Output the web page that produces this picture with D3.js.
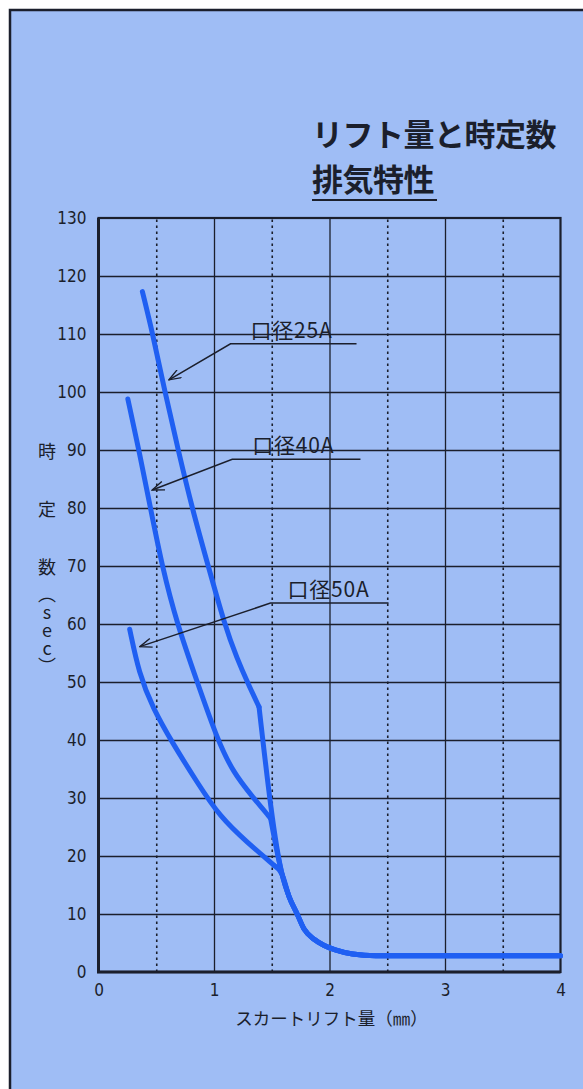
<!DOCTYPE html>
<html>
<head>
<meta charset="utf-8">
<script src="https://cdn.jsdelivr.net/npm/d3@7"></script>
<style>
  body { margin: 0; background: #fff; }
  svg { display: block; }
</style>
</head>
<body>
<div id="chart"></div>
<script>
// values
var xTicks    = [0, 1, 2, 3, 4];
var xDotted   = [0.5, 1.5, 2.5, 3.5];
var yTicks    = [0, 10, 20, 30, 40, 50, 60, 70, 80, 90, 100, 110, 120, 130];
var seriesNames = ['口径25A', '口径40A', '口径50A'];

// upper part of each curve, ends at the kink
var upper25 = [[0.38,117.3],[0.47,110],[0.575,100],[0.69,90],[0.81,80],[0.95,70],[1.09,60],[1.2,54],[1.3,49.5],[1.39,45.7]];
var upper40 = [[0.254,98.8],[0.355,89.5],[0.45,80],[0.55,70],[0.68,60],[0.855,50],[1.03,40],[1.17,34.3],[1.33,30.3],[1.49,26.5]];
var upper50 = [[0.27,59.1],[0.35,51.5],[0.47,45.5],[0.64,39.5],[0.86,32.5],[1.05,26.8],[1.29,22.3],[1.52,18.4]];
// common part after the curves meet
var tail = [[1.59,16.8],[1.65,13],[1.72,10],[1.78,7.4],[1.87,5.6],[1.95,4.6],[2.05,3.8],[2.2,3.1],[2.4,2.8],[3,2.8],[4,2.8]];

// leader lines of the labels: arrow tip, elbow, line end (data units)
var arrowTip   = [[0.61,102.1],[0.465,83.1],[0.358,56.1]];
var arrowElbow = [[1.143,108.3],[1.158,88.4],[1.489,63.6]];
var lineEnd    = [2.234, 2.268, 2.511];

var W = 583, H = 1089;
var bg = '#9fbdf5', ink = '#1b1f2c', blue = '#1f5ff2';

var svg = d3.select('#chart').append('svg')
  .attr('width', W).attr('height', H);

// sheet with frame
svg.append('rect').attr('width', W).attr('height', H).attr('fill', '#fff');
svg.append('rect')
  .attr('x', 10).attr('y', 10).attr('width', 620).attr('height', 1120)
  .attr('fill', bg).attr('stroke', ink).attr('stroke-width', 2.5);

var x = d3.scaleLinear().domain([0, 4]).range([98.5, 560.5]);
var y = d3.scaleLinear().domain([0, 130]).range([972, 218]);

// title
var cjk = '"Noto Sans CJK JP", sans-serif';
var title = svg.append('g').attr('fill', ink)
  .style('font-family', cjk).style('font-weight', 700);
title.append('text').attr('x', 312).attr('y', 146).style('font-size', '31px')
  .style('letter-spacing', '-0.5px').text('リフト量と時定数');
title.append('text').attr('x', 312).attr('y', 191).style('font-size', '31px')
  .style('letter-spacing', '-0.5px').text('排気特性');
svg.append('line').attr('x1', 312).attr('x2', 437).attr('y1', 200).attr('y2', 200)
  .attr('stroke', ink).attr('stroke-width', 2.2);

// grid
svg.append('g').attr('transform', 'translate(' + x(0) + ',0)')
  .call(d3.axisLeft(y).tickValues(yTicks.slice(1, -1)).tickSize(-(x(4) - x(0))).tickFormat(''))
  .call(function(g) { g.select('.domain').remove(); })
  .selectAll('line').attr('stroke', ink).attr('stroke-width', 1.3);

svg.append('g').attr('transform', 'translate(0,' + y(0) + ')')
  .call(d3.axisBottom(x).tickValues(xTicks.slice(1, -1)).tickSize(-(y(0) - y(130))).tickFormat(''))
  .call(function(g) { g.select('.domain').remove(); })
  .selectAll('line').attr('stroke', ink).attr('stroke-width', 1.3);

svg.append('g').attr('transform', 'translate(0,' + y(0) + ')')
  .call(d3.axisBottom(x).tickValues(xDotted).tickSize(-(y(0) - y(130))).tickFormat(''))
  .call(function(g) { g.select('.domain').remove(); })
  .selectAll('line').attr('stroke', ink).attr('stroke-width', 1.6)
  .attr('stroke-dasharray', '2.5,3.5');

// border of the plot
svg.append('rect')
  .attr('x', x(0)).attr('y', y(130))
  .attr('width', x(4) - x(0)).attr('height', y(0) - y(130))
  .attr('fill', 'none').attr('stroke', ink).attr('stroke-width', 2.2);
svg.append('path')
  .attr('d', 'M' + x(0) + ',' + y(130) + 'V' + y(0) + 'H' + x(4))
  .attr('fill', 'none').attr('stroke', ink).attr('stroke-width', 3);

// tick labels
var tickFont = '"DejaVu Sans Condensed", "Liberation Sans Narrow", sans-serif';
var ya = svg.append('g').attr('transform', 'translate(' + x(0) + ',0)')
  .call(d3.axisLeft(y).tickValues(yTicks).tickSize(0).tickPadding(12));
ya.select('.domain').remove();
ya.selectAll('text').attr('fill', ink).style('font-family', tickFont)
  .style('font-stretch', 'condensed').style('font-size', '17px');

var xa = svg.append('g').attr('transform', 'translate(0,' + y(0) + ')')
  .call(d3.axisBottom(x).tickValues(xTicks).tickSize(0).tickPadding(12).tickFormat(d3.format('d')));
xa.select('.domain').remove();
xa.selectAll('text').attr('fill', ink).style('font-family', tickFont)
  .style('font-stretch', 'condensed').style('font-size', '17px');

// axis titles
svg.append('text')
  .attr('x', (x(0) + x(4)) / 2 + 2).attr('y', 1025)
  .attr('text-anchor', 'middle').attr('fill', ink)
  .style('font-family', cjk).style('font-size', '17.5px')
  .text('スカートリフト量（㎜）');

var yTitle = ['時', '定', '数'];
svg.selectAll('.ytitle').data(yTitle).enter().append('text')
  .attr('x', 47).attr('y', function(d, i) { return y(90 - i * 10); })
  .attr('text-anchor', 'middle').attr('dominant-baseline', 'central')
  .attr('fill', ink).style('font-family', cjk).style('font-size', '18px')
  .text(function(d) { return d; });
svg.append('text')
  .attr('x', 47).attr('y', y(70) + 19)
  .attr('fill', ink).style('font-family', cjk).style('font-size', '18px')
  .style('writing-mode', 'vertical-rl').style('text-orientation', 'upright')
  .text('（sec）');

// curves
var smooth = d3.line().x(function(d) { return x(d[0]); }).y(function(d) { return y(d[1]); })
  .curve(d3.curveBasis);
var tailLine = d3.line().x(function(d) { return x(d[0]); }).y(function(d) { return y(d[1]); })
  .curve(d3.curveMonotoneX);

var curves = svg.append('g').attr('fill', 'none').attr('stroke', blue)
  .attr('stroke-width', 5).attr('stroke-linecap', 'round').attr('stroke-linejoin', 'round');
[upper25, upper40, upper50].forEach(function(u) {
  curves.append('path').attr('d', smooth(u));
  curves.append('path').attr('d', tailLine([u[u.length - 1]].concat(tail)));
});

// labels with leader lines
var defs = svg.append('defs');
defs.append('marker').attr('id', 'head')
  .attr('viewBox', '0 0 14 10').attr('refX', 13).attr('refY', 5)
  .attr('markerWidth', 14).attr('markerHeight', 10)
  .attr('markerUnits', 'userSpaceOnUse').attr('orient', 'auto')
  .append('path').attr('d', 'M1,0.5 L13,5 L1,9.5')
  .attr('fill', 'none').attr('stroke', ink).attr('stroke-width', 1.4);

seriesNames.forEach(function(name, i) {
  var e = arrowElbow[i], t = arrowTip[i];
  svg.append('path')
    .attr('d', 'M' + x(lineEnd[i]) + ',' + y(e[1]) + 'H' + x(e[0]) + 'L' + x(t[0]) + ',' + y(t[1]))
    .attr('fill', 'none').attr('stroke', ink).attr('stroke-width', 1.5)
    .attr('marker-end', 'url(#head)');
  svg.append('text')
    .attr('x', x(e[0]) + (i == 2 ? 17 : 20)).attr('y', y(e[1]) - 6)
    .attr('fill', ink).style('font-family', cjk).style('font-size', '21px')
    .style('letter-spacing', '0.8px')
    .text(name);
});
</script>
</body>
</html>
